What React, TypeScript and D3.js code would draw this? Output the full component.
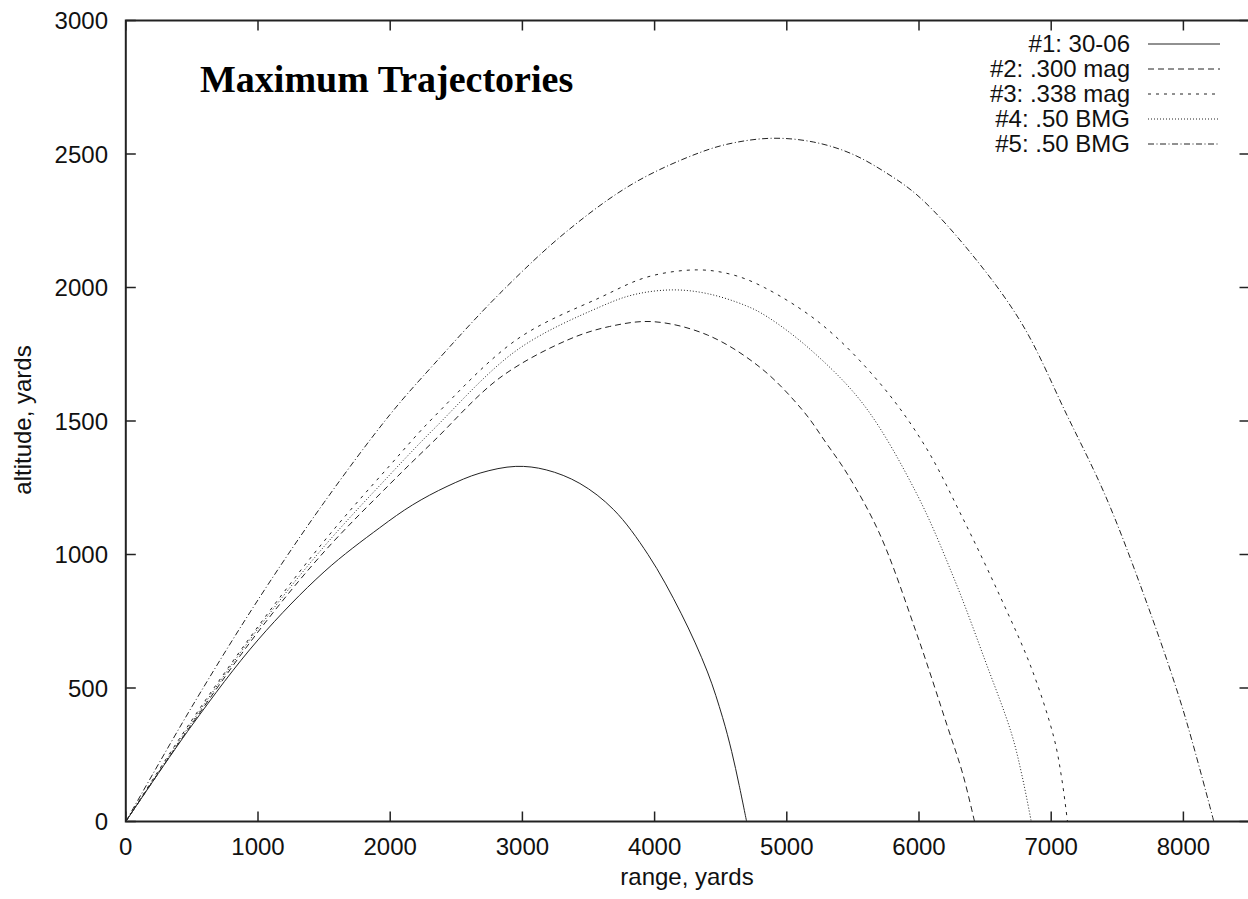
import * as d3 from "d3";

// range (yards), altitude (yards)
const traj1: [number, number][] = [
  [0, 0], [500, 360], [1000, 680], [1500, 935], [1920, 1100], [2170, 1186],
  [2430, 1255], [2680, 1305], [2950, 1330], [3180, 1317], [3435, 1266],
  [3690, 1168], [3950, 1000], [4200, 780], [4400, 560], [4514, 390],
  [4583, 262], [4640, 135], [4696, 0],
];
const traj2: [number, number][] = [
  [0, 0], [500, 365], [1000, 710], [1500, 1010], [2000, 1265], [2330, 1425],
  [2830, 1662], [3340, 1803], [3660, 1854], [3990, 1872], [4400, 1822],
  [4800, 1700], [5120, 1540], [5300, 1416], [5460, 1300], [5700, 1080],
  [5985, 700], [6215, 356], [6330, 180], [6420, 0],
];
const traj3: [number, number][] = [
  [0, 0], [500, 380], [1000, 730], [1500, 1050], [2000, 1335], [2330, 1515],
  [2960, 1806], [3590, 1963], [3950, 2040], [4320, 2066], [4580, 2049],
  [4830, 2000], [5260, 1863], [5700, 1644], [6040, 1411], [6330, 1137],
  [6620, 836], [6850, 575], [7020, 315], [7080, 160], [7123, 0],
];
const traj4: [number, number][] = [
  [0, 0], [500, 372], [1000, 722], [1500, 1030], [2000, 1300], [2330, 1470],
  [2960, 1766], [3590, 1928], [3850, 1974], [4140, 1991], [4400, 1977],
  [4690, 1932], [4850, 1891], [5180, 1767], [5580, 1562], [5980, 1230],
  [6270, 904], [6500, 603], [6700, 329], [6780, 170], [6849, 0],
];
const traj5: [number, number][] = [
  [0, 0], [500, 430], [1000, 830], [1500, 1195], [2000, 1525], [2330, 1712],
  [2830, 1978], [3340, 2212], [3840, 2390], [4340, 2505], [4600, 2542],
  [4900, 2559], [5200, 2545], [5480, 2503], [5750, 2430], [6000, 2340],
  [6390, 2130], [6780, 1863], [7120, 1521], [7410, 1220], [7700, 850],
  [7990, 430], [8230, 0],
];

const seriesLabels = ["#1: 30-06", "#2: .300 mag", "#3: .338 mag", "#4: .50 BMG", "#5: .50 BMG"];
const xTicks = [0, 1000, 2000, 3000, 4000, 5000, 6000, 7000, 8000];
const yTicks = [0, 500, 1000, 1500, 2000, 2500, 3000];

const W = 1248;
const H = 899;
const dashes = ["none", "6,4", "3,5", "1,2", "6,2.5,1,2.5"];
const font = "'Liberation Sans', Arial, Helvetica, sans-serif";

export default function App() {
  const x = d3.scaleLinear().domain([0, 8500]).range([125.8, 1249.5]);
  const y = d3.scaleLinear().domain([0, 3000]).range([821.5, 20.5]);

  const line = d3
    .line<[number, number]>()
    .x((d) => x(d[0]))
    .y((d) => y(d[1]))
    .curve(d3.curveCatmullRom.alpha(0.5));

  const all = [traj1, traj2, traj3, traj4, traj5];
  const [x0, x1] = x.range();
  const [y0, y1] = y.range();

  return (
    <svg
      width={W}
      height={H}
      style={{ position: "absolute", left: 0, top: 0, display: "block", background: "#fff" }}
    >
      {/* frame */}
      <rect x={x0} y={y1} width={x1 - x0} height={y0 - y1} fill="none" stroke="#222" strokeWidth={2} />

      {/* x ticks, bottom and mirrored top */}
      {xTicks.map((t) => (
        <g key={"x" + t}>
          <line x1={x(t)} x2={x(t)} y1={y0} y2={y0 - 10} stroke="#222" strokeWidth={1.5} />
          <line x1={x(t)} x2={x(t)} y1={y1} y2={y1 + 10} stroke="#222" strokeWidth={1.5} />
          <text x={x(t)} y={855} textAnchor="middle" fontFamily={font} fontSize={24} fill="#111">
            {t}
          </text>
        </g>
      ))}

      {/* y ticks, left and mirrored right */}
      {yTicks.map((t) => (
        <g key={"y" + t}>
          <line x1={x0} x2={x0 + 10} y1={y(t)} y2={y(t)} stroke="#222" strokeWidth={1.5} />
          <line x1={x1} x2={x1 - 10} y1={y(t)} y2={y(t)} stroke="#222" strokeWidth={1.5} />
          <text x={108} y={y(t) + 8.5} textAnchor="end" fontFamily={font} fontSize={24} fill="#111">
            {t}
          </text>
        </g>
      ))}

      {/* axis titles */}
      <text x={687} y={885} textAnchor="middle" fontFamily={font} fontSize={24} fill="#111">
        range, yards
      </text>
      <text
        transform="translate(31,420) rotate(-90)"
        textAnchor="middle"
        fontFamily={font}
        fontSize={24}
        fill="#111"
      >
        altitude, yards
      </text>

      {/* title */}
      <text
        x={200}
        y={92}
        fontFamily="'Liberation Serif', 'Times New Roman', serif"
        fontWeight="bold"
        fontSize={38}
        fill="#000"
      >
        Maximum Trajectories
      </text>

      {/* trajectories */}
      {all.map((s, i) => (
        <path
          key={"p" + i}
          d={line(s) || ""}
          fill="none"
          stroke="#222"
          strokeWidth={1}
          strokeDasharray={dashes[i]}
        />
      ))}

      {/* legend */}
      {seriesLabels.map((lab, i) => {
        const ly = 44 + i * 25;
        return (
          <g key={"l" + i}>
            <text x={1130} y={ly + 8} textAnchor="end" fontFamily={font} fontSize={24} fill="#111">
              {lab}
            </text>
            <line x1={1148} x2={1220} y1={ly} y2={ly} stroke="#222" strokeWidth={1} strokeDasharray={dashes[i]} />
          </g>
        );
      })}
    </svg>
  );
}
